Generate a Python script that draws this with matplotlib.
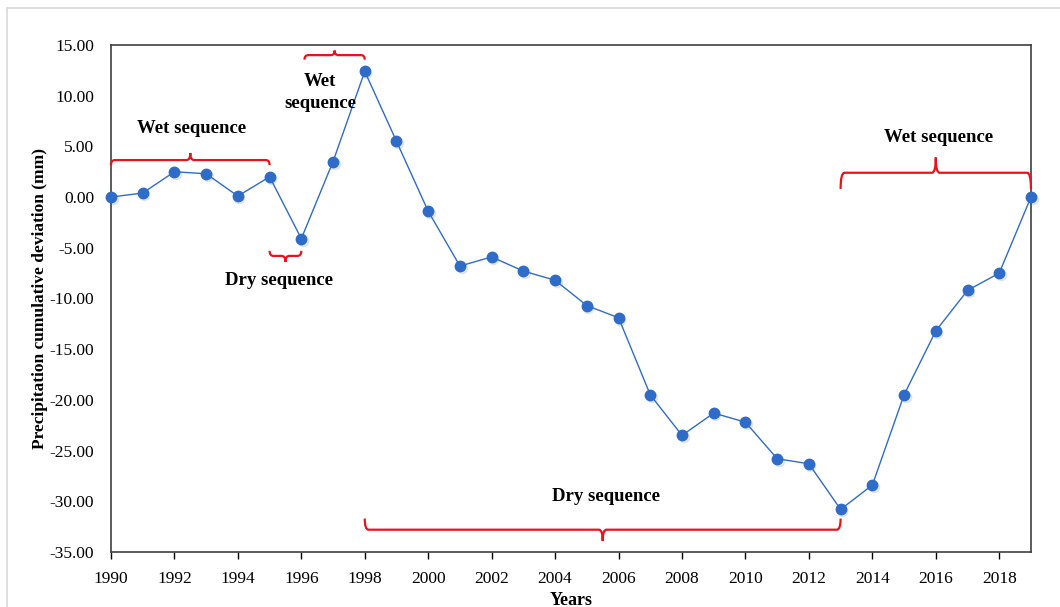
import matplotlib

matplotlib.use("Agg")

import matplotlib.pyplot as plt
from matplotlib.patches import PathPatch
from matplotlib.path import Path
from matplotlib.lines import Line2D

years = list(range(1990, 2020))
cum_dev = [0.0, 0.4, 2.5, 2.3, 0.1, 2.0, -4.1, 3.5, 12.4, 5.5,
           -1.4, -6.8, -5.9, -7.3, -8.2, -10.7, -11.9, -19.5, -23.5, -21.3,
           -22.2, -25.8, -26.3, -30.8, -28.4, -19.5, -13.2, -9.2, -7.5, 0.0]

# sequence braces: (start year, end year, label)
seq_spans = [
    (1990.0, 1995.0, "Wet sequence"),
    (1995.0, 1996.0, "Dry sequence"),
    (1996.1, 1998.0, "Wet\nsequence"),
    (1998.0, 2013.0, "Dry sequence"),
    (2013.0, 2019.0, "Wet sequence"),
]

plt.rcParams["font.family"] = ["Liberation Serif", "DejaVu Serif"]

RED = "#e8141b"
BLUE = "#2f6cc8"


def brace(ax, x0, x1, y, end, tip, r=0.12):
    """Curly brace from x0 to x1 at height y; ends bend by `end`, centre tip by `tip`."""
    xm = (x0 + x1) / 2
    verts = [
        (x0, y + end), (x0, y), (x0 + r, y),
        (xm - r, y),
        (xm, y), (xm, y + tip),
        (xm, y), (xm + r, y),
        (x1 - r, y),
        (x1, y), (x1, y + end),
    ]
    codes = [Path.MOVETO, Path.CURVE3, Path.CURVE3,
             Path.LINETO,
             Path.CURVE3, Path.CURVE3,
             Path.CURVE3, Path.CURVE3,
             Path.LINETO,
             Path.CURVE3, Path.CURVE3]
    ax.add_patch(PathPatch(Path(verts, codes), fill=False, edgecolor=RED,
                           linewidth=1.6, capstyle="butt", clip_on=False, zorder=4))


fig = plt.figure(figsize=(10.6, 6.07), dpi=100)
ax = fig.add_axes([0.1047, 0.0906, 0.8679, 0.8353])

# thin grey outer frame
fig.add_artist(Line2D([0.0066, 0.0066], [0.0, 0.987], transform=fig.transFigure,
                      color="#d9d9d9", linewidth=1.2))
fig.add_artist(Line2D([0.0066, 1.0], [0.987, 0.987], transform=fig.transFigure,
                      color="#d9d9d9", linewidth=1.2))

# soft marker shadow, then the series itself
ax.plot([x + 0.05 for x in years], [v - 0.2 for v in cum_dev], "o", ms=7.5,
        color="#9aa3b0", alpha=0.2, zorder=2, clip_on=False)
ax.plot(years, cum_dev, "-o", color=BLUE, linewidth=1.0, ms=7.5,
        markerfacecolor=BLUE, markeredgecolor=BLUE, zorder=3, clip_on=False)

brace(ax, *seq_spans[0][:2], y=3.65, end=-0.5, tip=0.7)
brace(ax, *seq_spans[1][:2], y=-5.8, end=0.5, tip=-0.6)
brace(ax, *seq_spans[2][:2], y=14.0, end=-0.45, tip=0.45)
brace(ax, *seq_spans[3][:2], y=-32.8, end=1.1, tip=-1.1)
brace(ax, *seq_spans[4][:2], y=2.4, end=-1.6, tip=1.5)

label_pos = [(1992.55, 6.8), (1995.3, -8.2), (1996.6, 10.3), (2005.6, -29.5), (2016.1, 5.9)]
for (x, y), (_, _, text) in zip(label_pos, seq_spans):
    ax.text(x, y, text, ha="center", va="center", fontsize=13.5, fontweight="bold",
            linespacing=1.4, zorder=5)

ax.set_xlim(1990, 2019)
ax.set_ylim(-35, 15)
ax.set_xticks(range(1990, 2020, 2))
ax.set_yticks(range(-35, 16, 5))
ax.set_yticklabels([f"{v:.2f}" for v in range(-35, 16, 5)])
ax.tick_params(axis="x", direction="out", length=5, width=1, labelsize=12.5, pad=9)
ax.tick_params(axis="y", length=0, labelsize=12.5, pad=12)
for side in ax.spines.values():
    side.set_color("#404040")
    side.set_linewidth(1.2)

ax.set_xlabel("Years", fontsize=13, fontweight="bold", labelpad=3)
ax.set_ylabel("Precipitation cumulative deviation (mm)", fontsize=12.5,
              fontweight="bold", labelpad=1)

fig.savefig("out.png", dpi=100)
